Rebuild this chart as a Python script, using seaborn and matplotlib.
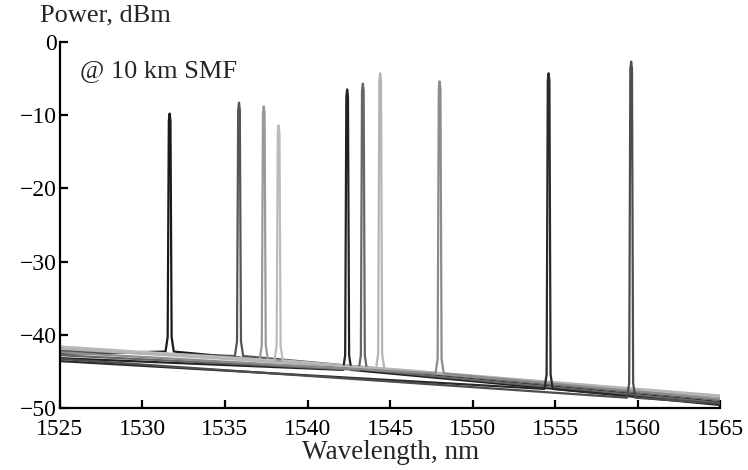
import numpy as np
import pandas as pd
import matplotlib
matplotlib.use("Agg")
import matplotlib.pyplot as plt
import seaborn as sns

# peaks of the 10 channels
peak_wl = [1531.65, 1535.85, 1537.35, 1538.25, 1542.4, 1543.35, 1544.4, 1548.0, 1554.6, 1559.6]
peak_dbm = [-9.8, -8.3, -8.8, -11.4, -6.5, -5.7, -4.3, -5.4, -4.3, -2.7]
base_dbm = [-42.3, -42.9, -43.4, -43.5, -44.8, -44.8, -44.6, -45.3, -47.4, -48.6]
floor_start = [-42.6, -42.2, -41.8, -41.6, -43.2, -42.8, -41.9, -42.4, -43.6, -43.3]
floor_end = [-49.2, -48.9, -48.5, -48.4, -49.5, -49.3, -48.3, -48.8, -49.6, -49.4]
colors = ['#1a1a1a', '#555555', '#999999', '#bbbbbb', '#222222',
          '#666666', '#b5b5b5', '#8c8c8c', '#2a2a2a', '#4d4d4d']

wl_start, wl_end = 1525, 1565
# spike shape around each peak (nm offset, which level)
offs = [-0.25, -0.12, -0.05, 0, 0.05, 0.12, 0.25]

rows = []
for i in range(len(peak_wl)):
    lam, pk, bs = peak_wl[i], peak_dbm[i], base_dbm[i]
    lv = [bs, bs + 2, pk - 1, pk, pk - 1, bs + 2, bs]
    xs = [wl_start] + [lam + o for o in offs] + [wl_end]
    ys = [floor_start[i]] + lv + [floor_end[i]]
    for k, (x, y) in enumerate(zip(xs, ys)):
        rows.append({'ch': i, 'order': k, 'wl': x, 'p': y})
df = pd.DataFrame(rows)

sns.set_style("ticks")
plt.rcParams['font.family'] = ['Liberation Serif', 'DejaVu Serif']
plt.rcParams['axes.unicode_minus'] = True

fig = plt.figure(figsize=(7.48, 4.70), dpi=100)
ax = fig.add_axes([0.080, 0.132, 0.883, 0.779])

sns.lineplot(data=df, x='wl', y='p', hue='ch', palette=colors, sort=False,
             estimator=None, legend=False, linewidth=1.6, ax=ax)

ax.set_xlim(1525, 1565)
ax.set_ylim(-50, 0)
ax.set_xticks(range(1525, 1566, 5))
ax.set_yticks([0, -10, -20, -30, -40, -50])
ax.set_yticklabels(['0', '\u221210', '\u221220', '\u221230', '\u221240', '\u221250'])
sns.despine(ax=ax)
for s in ['left', 'bottom']:
    ax.spines[s].set_linewidth(1.6)
    ax.spines[s].set_color('black')
ax.tick_params(direction='in', length=6, width=1.6, labelsize=17, colors='black', pad=2)
ax.tick_params(axis='x', pad=8)
ax.set_xlabel('Wavelength, nm', fontsize=19.5, labelpad=0)
ax.set_ylabel('')
fig.text(0.053, 0.967, 'Power, dBm', fontsize=19, va='center', ha='left')
ax.text(0.03, 0.92, '@ 10 km SMF', transform=ax.transAxes, fontsize=19, va='center')

fig.savefig('out.png', dpi=100)
